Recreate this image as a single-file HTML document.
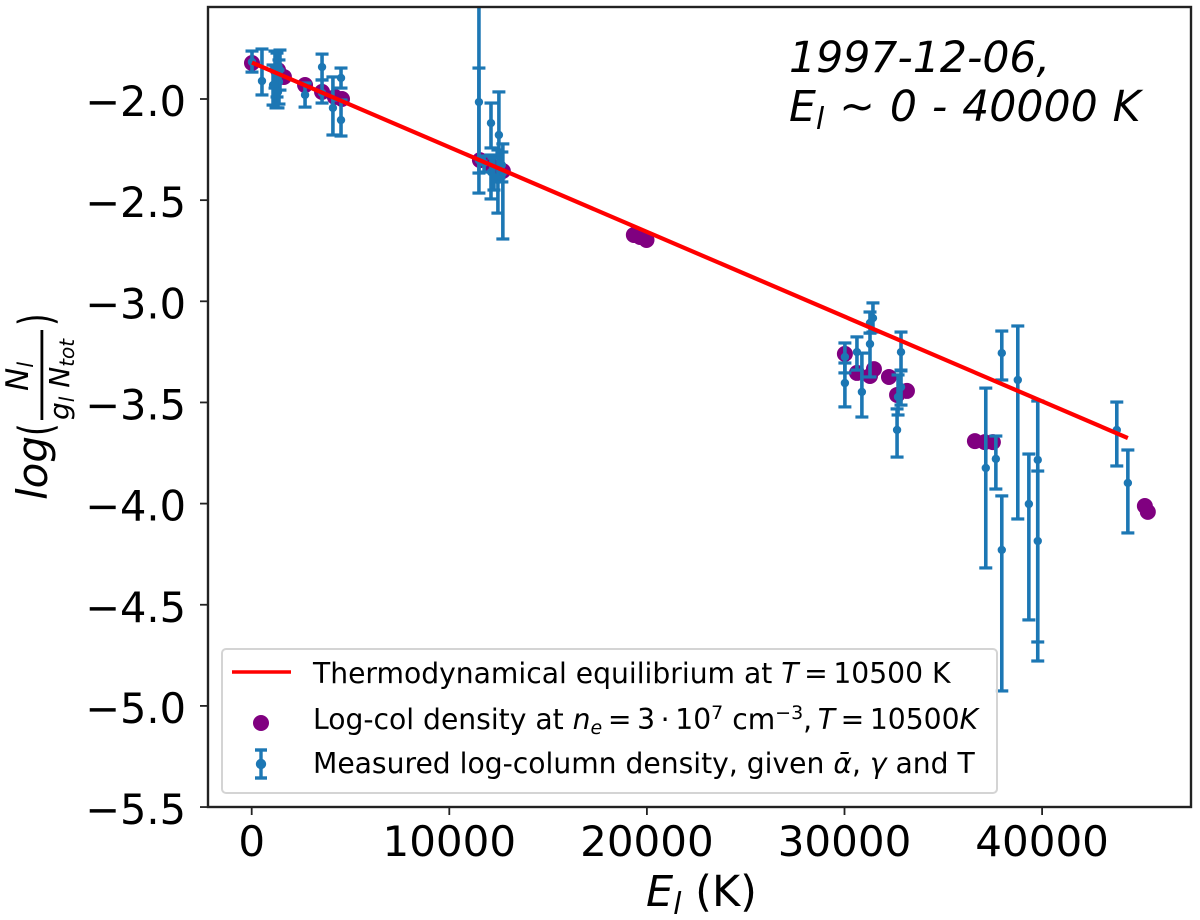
<!DOCTYPE html>
<html lang="en">
<head>
<meta charset="utf-8">
<title>Log-column density vs. excitation energy</title>
<style>
html,body{margin:0;padding:0;background:#fff;}
svg{display:block;font-family:"DejaVu Sans","Liberation Sans",sans-serif;fill:#000;}
</style>
</head>
<body>
<svg id="chart" xmlns="http://www.w3.org/2000/svg" width="1200" height="920" viewBox="0 0 1200 920">
  <defs>
    <clipPath id="plot-clip"><rect x="208" y="7" width="983" height="800"/></clipPath>
    <filter id="soft" x="-5%" y="-5%" width="110%" height="110%"><feGaussianBlur stdDeviation="0.35"/></filter>
  </defs>
  <g filter="url(#soft)">
    <g id="marks" clip-path="url(#plot-clip)"></g>
    <rect x="208" y="7" width="983" height="800" fill="none" stroke="#222" stroke-width="2.4"/>
    <g id="ticks"></g>

    <g font-style="italic" font-size="42.6">
      <text x="789" y="72">1997-12-06,</text>
      <text x="789" y="121" word-spacing="1.4">E<tspan font-size="30" dy="8">l</tspan><tspan dy="-8"> ~ 0 - 40000 K</tspan></text>
    </g>

    <text x="646" y="906" font-size="43"><tspan font-style="italic">E</tspan><tspan font-style="italic" font-size="30" dy="8">l</tspan><tspan dy="-8"> (K)</tspan></text>

    <g>
      <text transform="translate(52,436) rotate(-90) scale(0.7,1)" font-size="46">(</text>
      <text transform="translate(47,500) rotate(-90)" font-size="42" font-style="italic">log</text>
      <text transform="translate(28,391) rotate(-90)" font-size="31" font-style="italic">N<tspan font-size="21" dy="5">l</tspan></text>
      <rect x="40.5" y="330" width="2.8" height="90" fill="#000"/>
      <text transform="translate(69,420) rotate(-90)" font-size="28" font-style="italic">g<tspan font-size="20" dy="5">l</tspan><tspan dy="-5"> N</tspan><tspan font-size="20" dy="5">tot</tspan></text>
      <text transform="translate(52,326) rotate(-90) scale(0.7,1)" font-size="46">)</text>
    </g>

    <g>
      <rect x="222" y="649" width="775" height="144" rx="4" fill="#fff" fill-opacity="0.85" stroke="#d4d4d4" stroke-width="2"/>
      <line x1="232" y1="672" x2="291" y2="672" stroke="#ff0000" stroke-width="3.6"/>
      <circle cx="261" cy="723" r="8" fill="#800080"/>
      <g stroke="#1f77b4" stroke-width="3.4">
        <line x1="261" y1="750" x2="261" y2="778"/>
        <line x1="255" y1="750" x2="267" y2="750"/>
        <line x1="255" y1="778" x2="267" y2="778"/>
        <circle cx="261" cy="764" r="3.5" fill="#1f77b4"/>
      </g>
      <g font-size="28.2">
        <text x="313" y="683">Thermodynamical equilibrium at <tspan font-style="italic">T</tspan>&#8201;=&#8201;10500 K</text>
        <text x="313" y="729">Log-col density at <tspan font-style="italic">n</tspan><tspan font-style="italic" font-size="19" dy="5">e</tspan><tspan dy="-5">&#8201;=&#8201;3&#8201;·&#8201;10</tspan><tspan font-size="19" dy="-10">7</tspan><tspan dy="10"> cm</tspan><tspan font-size="19" dy="-10">−3</tspan><tspan dy="10">,&#8201;</tspan><tspan font-style="italic">T</tspan>&#8201;=&#8201;10500<tspan font-style="italic">K</tspan></text>
        <text x="313" y="773">Measured log-column density, given <tspan font-style="italic">ᾱ</tspan>, <tspan font-style="italic">γ</tspan> and T</text>
      </g>
    </g>
  </g>
</svg>
<script>
const xTickValues = [0, 10000, 20000, 30000, 40000];
const yTickValues = [-2.0, -2.5, -3.0, -3.5, -4.0, -4.5, -5.0, -5.5];

const lineX = [15, 44340];
const lineY = [-1.82, -3.676];

const scatterX = [15, 1330, 1630, 2700, 3560, 4210, 4570, 11550, 12060, 12710, 19340, 19650, 19980, 30020, 30630, 31290, 31490, 32250, 32660, 33160, 36600, 37100, 37510, 45200, 45350];
const scatterY = [-1.822, -1.857, -1.891, -1.931, -1.965, -1.990, -2.000, -2.302, -2.326, -2.356, -2.672, -2.682, -2.697, -3.260, -3.354, -3.369, -3.335, -3.374, -3.463, -3.443, -3.691, -3.696, -3.696, -4.012, -4.041];

const measuredX = [15, 520, 1180, 1280, 1380, 1230, 1330, 1080, 1430, 2700, 3560, 3560, 4110, 4520, 4520, 11500, 11500, 12110, 12510, 12710, 12110, 12460, 11760, 12260, 12660, 30020, 30020, 30630, 30880, 31290, 31290, 31440, 32860, 32660, 32710, 32860, 37150, 37660, 37960, 37960, 38770, 39330, 39780, 39780, 43780, 44340];
const measuredY = [-1.817, -1.911, -1.847, -1.881, -1.916, -1.946, -1.965, -1.931, -1.857, -1.980, -1.842, -1.970, -2.044, -1.896, -2.104, -2.015, -2.302, -2.119, -2.178, -2.366, -2.361, -2.400, -2.316, -2.386, -2.326, -3.275, -3.404, -3.251, -3.448, -3.211, -3.107, -3.083, -3.251, -3.636, -3.473, -3.424, -3.824, -3.779, -3.256, -4.229, -3.389, -4.002, -3.784, -4.185, -3.636, -3.898];
const measuredHigh = [-1.763, -1.753, -1.763, -1.773, -1.807, -1.837, -1.857, -1.832, -1.758, -1.921, -1.778, -1.906, -1.891, -1.847, -2.005, -1.5, -1.847, -2.020, -1.965, -2.222, -2.277, -2.252, -2.282, -2.292, -2.262, -3.206, -3.305, -3.176, -3.256, -3.157, -3.053, -3.008, -3.152, -3.532, -3.364, -3.344, -3.429, -3.666, -3.147, -3.962, -3.122, -3.755, -3.493, -3.839, -3.498, -3.735];
const measuredLow = [-1.867, -1.980, -1.946, -1.990, -2.025, -2.044, -2.044, -2.030, -1.956, -2.040, -1.906, -2.020, -2.178, -1.946, -2.183, -2.465, -2.366, -2.242, -2.390, -2.692, -2.494, -2.564, -2.361, -2.450, -2.410, -3.354, -3.522, -3.340, -3.572, -3.374, -3.157, -3.152, -3.340, -3.770, -3.562, -3.513, -4.318, -3.928, -3.389, -4.926, -4.076, -4.575, -4.684, -4.778, -3.814, -4.145];

const SVG_NS = 'http://www.w3.org/2000/svg';
const xScale = v => 251.7 + v * 0.01976;
const yScale = v => 99 + (-2 - v) * 202.3;
const marks = document.getElementById('marks');
const ticks = document.getElementById('ticks');

function make(tag, parent) {
  const el = document.createElementNS(SVG_NS, tag);
  parent.appendChild(el);
  return el;
}
function segment(parent, x1, y1, x2, y2, color, width) {
  const el = make('line', parent);
  el.setAttribute('x1', x1);
  el.setAttribute('y1', y1);
  el.setAttribute('x2', x2);
  el.setAttribute('y2', y2);
  el.setAttribute('stroke', color);
  el.setAttribute('stroke-width', width);
  return el;
}

xTickValues.forEach(v => {
  const t = segment(ticks, xScale(v), 807, xScale(v), 815, '#222', 1.8);
  
  
  const label = make('text', ticks);
  
  
  label.setAttribute('x', xScale(v));
  label.setAttribute('y', 856);
  label.setAttribute('text-anchor', 'middle');
  label.setAttribute('font-size', '42');
  label.textContent = String(v);
});
yTickValues.forEach(v => {
  const t = segment(ticks, 200, yScale(v), 208, yScale(v), '#222', 1.8);
  
  
  const label = make('text', ticks);
  
  
  label.setAttribute('x', 186);
  label.setAttribute('y', yScale(v) + 17);
  label.setAttribute('text-anchor', 'end');
  label.setAttribute('font-size', '41.5');
  label.textContent = '\u2212' + Math.abs(v).toFixed(1);
});

scatterX.forEach((x, i) => {
  const c = make('circle', marks);
  
  
  c.setAttribute('cx', xScale(x));
  c.setAttribute('cy', yScale(scatterY[i]));
  c.setAttribute('r', 8);
  c.setAttribute('fill', '#800080');
});

measuredX.forEach((x, i) => {
  const g = make('g', marks);
  
  
  const px = xScale(x);
  const top = yScale(measuredHigh[i]);
  const bottom = yScale(measuredLow[i]);
  segment(g, px, top, px, bottom, '#1f77b4', 3.6);
  segment(g, px - 6.5, top, px + 6.5, top, '#1f77b4', 3.2);
  segment(g, px - 6.5, bottom, px + 6.5, bottom, '#1f77b4', 3.2);
  const dot = make('circle', g);
  dot.setAttribute('cx', px);
  dot.setAttribute('cy', yScale(measuredY[i]));
  dot.setAttribute('r', 4.2);
  dot.setAttribute('fill', '#1f77b4');
});

const fit = make('polyline', marks);


fit.setAttribute('points', lineX.map((x, i) => xScale(x) + ',' + yScale(lineY[i])).join(' '));
fit.setAttribute('fill', 'none');
fit.setAttribute('stroke', '#ff0000');
fit.setAttribute('stroke-width', 4.2);
</script>
</body>
</html>
